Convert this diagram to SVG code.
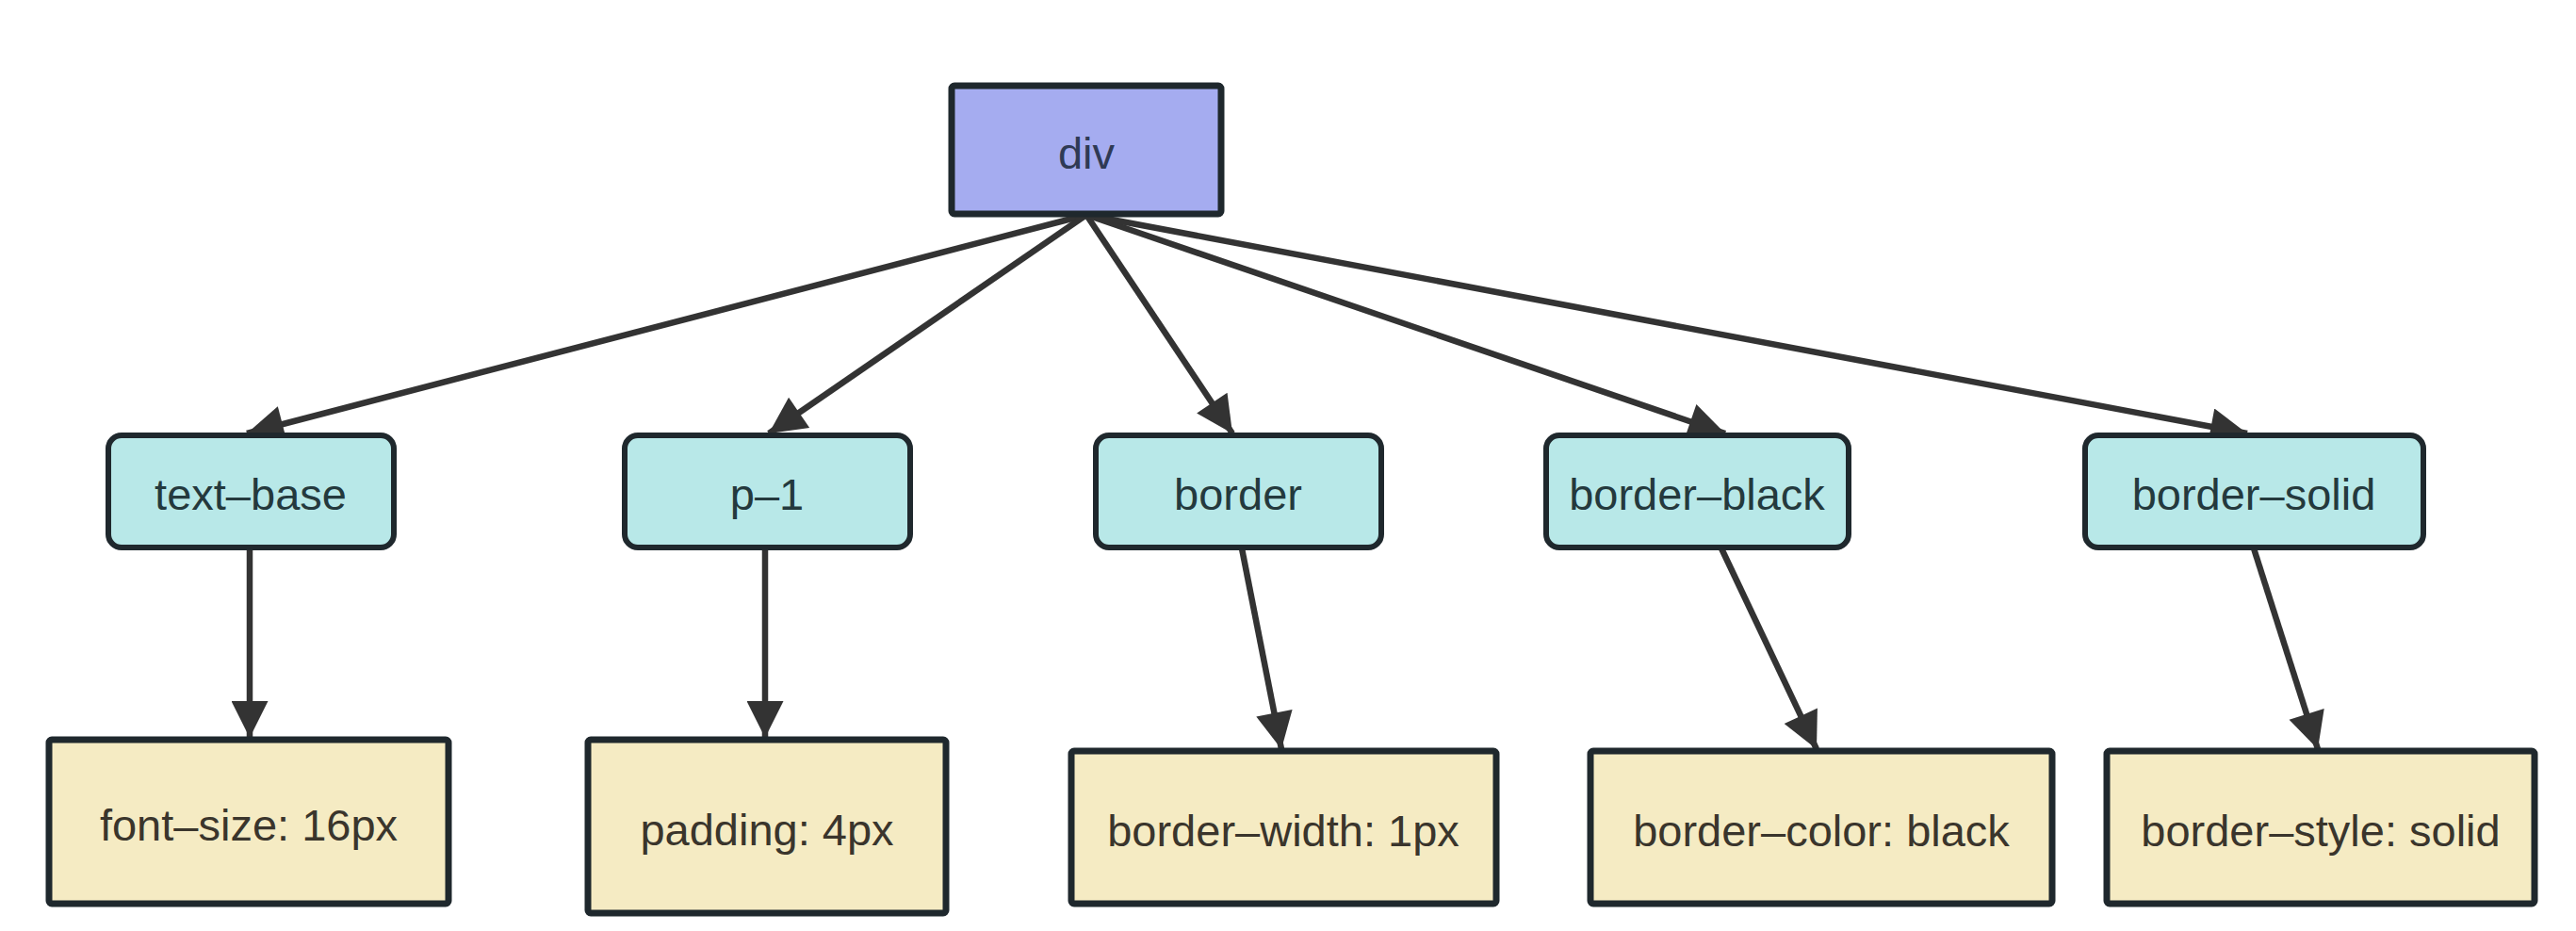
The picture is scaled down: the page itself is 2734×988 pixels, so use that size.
<svg xmlns="http://www.w3.org/2000/svg" width="2734" height="988" viewBox="0 0 2734 988">
<style>
.bg{fill:#ffffff}
.root rect{fill:#a5acf0;stroke:#1f282d;stroke-width:7}
.mid rect{fill:#b8e8e8;stroke:#1f282d;stroke-width:6}
.leaf rect{fill:#f5ebc3;stroke:#1f282d;stroke-width:7}
text{font-family:"Liberation Sans",Arial,sans-serif;font-size:47px;text-anchor:middle;dominant-baseline:central}
.root text{fill:#2f3a55}
.mid text{fill:#24393d}
.leaf text{fill:#3a352c}
.edge{stroke:#333333;stroke-width:6.5;fill:none;marker-end:url(#arr)}
</style>
<defs>
<marker id="arr" viewBox="0 0 10 10" refX="10" refY="5" markerWidth="7.5" markerHeight="6" orient="auto" markerUnits="strokeWidth">
<path d="M0,0 L10,5 L0,10 z" fill="#333333"/>
</marker>
</defs>
<rect class="bg" x="0" y="0" width="2734" height="988"/>
<g id="connectors">
<line class="edge" x1="1153" y1="228" x2="262" y2="460"/>
<line class="edge" x1="1153" y1="228" x2="816" y2="460"/>
<line class="edge" x1="1153" y1="228" x2="1308" y2="460"/>
<line class="edge" x1="1153" y1="228" x2="1831" y2="460"/>
<line class="edge" x1="1153" y1="228" x2="2385" y2="460"/>
<line class="edge" x1="265" y1="582" x2="265" y2="783"/>
<line class="edge" x1="812" y1="582" x2="812" y2="783"/>
<line class="edge" x1="1318" y1="582" x2="1360" y2="795"/>
<line class="edge" x1="1827" y1="582" x2="1928" y2="795"/>
<line class="edge" x1="2392" y1="582" x2="2460" y2="795"/>
</g>
<g id="div" class="root">
<rect x="1010" y="91" width="286" height="136" rx="3"/>
<text x="1153" y="162">div</text>
</g>
<g id="text-base" class="mid">
<rect x="115" y="462" width="303" height="119" rx="14"/>
<text x="266" y="524">text–base</text>
</g>
<g id="p-1" class="mid">
<rect x="663" y="462" width="303" height="119" rx="14"/>
<text x="814" y="524">p–1</text>
</g>
<g id="border" class="mid">
<rect x="1163" y="462" width="303" height="119" rx="14"/>
<text x="1314" y="524">border</text>
</g>
<g id="border-black" class="mid">
<rect x="1641" y="462" width="321" height="119" rx="14"/>
<text x="1801" y="524">border–black</text>
</g>
<g id="border-solid" class="mid">
<rect x="2213" y="462" width="359" height="119" rx="14"/>
<text x="2392" y="524">border–solid</text>
</g>
<g id="font-size" class="leaf">
<rect x="52" y="785" width="424" height="174" rx="3"/>
<text x="264" y="875">font–size: 16px</text>
</g>
<g id="padding" class="leaf">
<rect x="624" y="785" width="380" height="184" rx="3"/>
<text x="814" y="880">padding: 4px</text>
</g>
<g id="border-width" class="leaf">
<rect x="1137" y="797" width="451" height="162" rx="3"/>
<text x="1362" y="881">border–width: 1px</text>
</g>
<g id="border-color" class="leaf">
<rect x="1688" y="797" width="490" height="162" rx="3"/>
<text x="1933" y="881">border–color: black</text>
</g>
<g id="border-style" class="leaf">
<rect x="2236" y="797" width="454" height="162" rx="3"/>
<text x="2463" y="881">border–style: solid</text>
</g>
</svg>
